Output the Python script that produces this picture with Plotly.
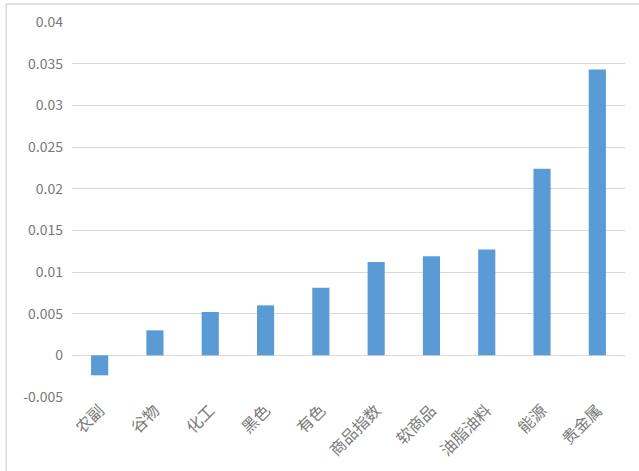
import plotly.graph_objects as go

categories = ["农副", "谷物", "化工", "黑色", "有色", "商品指数", "软商品", "油脂油料", "能源", "贵金属"]
values = [-0.0024, 0.0030, 0.0052, 0.0060, 0.0081, 0.0112, 0.0119, 0.0127, 0.0224, 0.0343]
y_ticks = [-0.005, 0, 0.005, 0.01, 0.015, 0.02, 0.025, 0.03, 0.035, 0.04]
y_tick_text = ["-0.005", "0", "0.005", "0.01", "0.015", "0.02", "0.025", "0.03", "0.035", "0.04"]

FONT = "Noto Sans CJK SC, Noto Sans, sans-serif"
GRID = "#D9D9D9"
TEXT = "#7A7A7A"

fig = go.Figure(
    go.Bar(x=categories, y=values, marker_color="#5B9BD5", marker_line_width=0, width=0.31)
)

fig.update_layout(
    width=639,
    height=471,
    margin=dict(l=72, r=14, t=22, b=74),
    paper_bgcolor="white",
    plot_bgcolor="white",
    font=dict(family=FONT, size=13, color=TEXT),
    showlegend=False,
    bargap=0.69,
)
fig.update_xaxes(
    tickangle=-45,
    showgrid=False,
    showline=False,
    ticks="",
    automargin=False,
    tickfont=dict(size=16, color=TEXT),
)
fig.update_yaxes(
    range=[-0.005, 0.04],
    tickvals=y_ticks,
    ticktext=y_tick_text,
    showgrid=True,
    gridcolor=GRID,
    gridwidth=1,
    zeroline=True,
    zerolinecolor=GRID,
    zerolinewidth=1,
    showline=False,
    ticks="",
    automargin=False,
    ticklabelstandoff=8,
    tickfont=dict(size=14, color=TEXT),
)

# chart frame, as in the office-style export
fig.add_shape(
    type="rect", xref="paper", yref="paper",
    x0=-0.119, x1=1.05, y0=-0.2, y1=1.048,
    line=dict(color="#D9D9D9", width=1.5), fillcolor="rgba(0,0,0,0)", layer="below",
)

# drop the browser's default body margin so the figure sits at the page origin
fig.write_html(
    "out.html",
    config={"displayModeBar": False},
    post_script="document.body.style.margin='0';",
)
